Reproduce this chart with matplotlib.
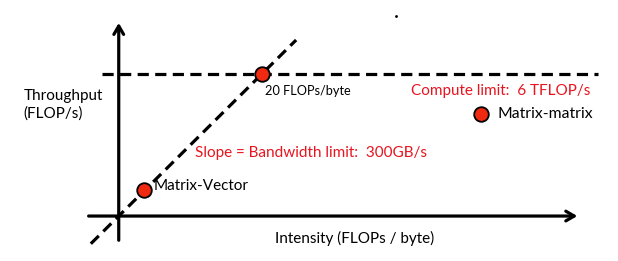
import matplotlib
matplotlib.use("Agg")
import matplotlib.pyplot as plt

# Roofline model values
bandwidth = 0.3          # TFLOP/s per (FLOP/byte)  -> 300 GB/s
compute_limit = 6.0      # TFLOP/s
ridge_intensity = 20.0   # FLOPs/byte
points_names = ["Matrix-Vector", "20 FLOPs/byte", "Matrix-matrix"]
points_intensity = [3.6, 20.0, 50.7]
points_throughput = [1.08, 6.0, 4.3]

plt.rcParams['font.family'] = ['Lato', 'DejaVu Sans']
fig = plt.figure(figsize=(6.18, 2.61), dpi=100)
ax = fig.add_axes([0, 0, 1, 1])
ax.set_xlim(-16.6, 69.8)
ax.set_ylim(-1.90, 9.13)
ax.axis('off')

# axes arrows
ax.annotate('', xy=(64.5, 0), xytext=(-4.6, 0),
            arrowprops=dict(arrowstyle='->,head_length=0.6,head_width=0.35', lw=2.3, color='black'))
ax.annotate('', xy=(0, 8.28), xytext=(0, -1.14),
            arrowprops=dict(arrowstyle='->,head_length=0.6,head_width=0.35', lw=2.3, color='black'))

# bandwidth line
xs = [-3.9, 24.8]
ax.plot(xs, [x * bandwidth for x in xs], color='black', lw=2.3, dashes=(3.5, 2.0))
# compute limit
ax.plot([-2.4, 67.0], [compute_limit, compute_limit], color='black', lw=2.3, dashes=(3.5, 2.0))

ax.scatter(points_intensity, points_throughput, s=110, color='#f02a10', edgecolor='black',
           linewidth=1.3, zorder=5)

ax.text(-13.3, 4.7, "Throughput\n(FLOP/s)", fontsize=11, ha='left', va='center', linespacing=1.3)
ax.text(20.4, 5.3, "20 FLOPs/byte", fontsize=9.2, ha='left', va='center')
ax.text(66.0, 5.3, "Compute limit:  6 TFLOP/s", fontsize=11, color='#e8141e', ha='right', va='center')
ax.text(52.9, 4.3, "Matrix-matrix", fontsize=11.3, ha='left', va='center')
ax.text(10.7, 2.65, "Slope = Bandwidth limit:  300GB/s", fontsize=11, color='#e8141e', ha='left', va='center')
ax.text(4.9, 1.27, "Matrix-Vector", fontsize=11, ha='left', va='center')
ax.text(21.8, -0.93, "Intensity (FLOPs / byte)", fontsize=11, ha='left', va='center')
ax.plot([38.7], [8.45], marker='.', color='black', markersize=2)

fig.savefig("out.png", dpi=100)
